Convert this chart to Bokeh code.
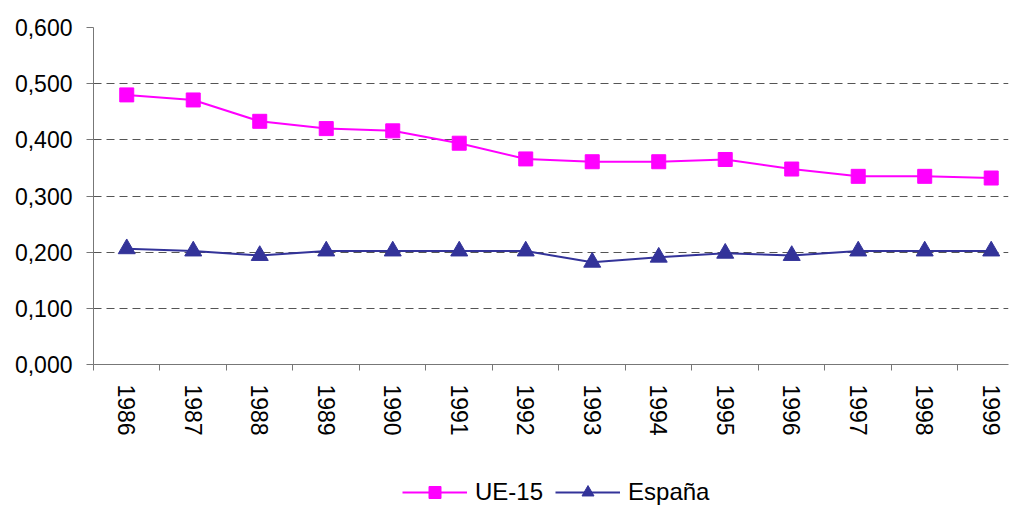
from bokeh.plotting import figure
from bokeh.layouts import column
from bokeh.models import (Range1d, FixedTicker, CustomJSTickFormatter, Legend, LegendItem)
from bokeh.embed import file_html
from bokeh.resources import INLINE
import math

years = ["1986", "1987", "1988", "1989", "1990", "1991", "1992",
         "1993", "1994", "1995", "1996", "1997", "1998", "1999"]
ue15 = [0.480, 0.471, 0.433, 0.420, 0.416, 0.394, 0.366,
        0.361, 0.361, 0.365, 0.348, 0.335, 0.335, 0.332]
espana = [0.206, 0.202, 0.194, 0.202, 0.202, 0.202, 0.202,
          0.182, 0.191, 0.198, 0.194, 0.202, 0.202, 0.202]
y_ticks = [0.0, 0.1, 0.2, 0.3, 0.4, 0.5, 0.6]
series_names = ["UE-15", "España"]

xs = list(range(len(years)))
FONT = "Liberation Sans"
MAGENTA = "#FF00FF"
NAVY = "#333399"

p = figure(width=1011, height=470, output_backend="svg", toolbar_location=None,
           x_range=Range1d(-0.5, 13.26), y_range=Range1d(0, 0.6),
           min_border_left=93, min_border_top=27, min_border_right=3,
           min_border_bottom=106)
p.outline_line_color = None
p.background_fill_color = "white"

# axes
p.yaxis.ticker = FixedTicker(ticks=y_ticks)
p.yaxis.formatter = CustomJSTickFormatter(code="return tick.toFixed(3).replace('.', ',');")
p.yaxis.major_tick_out = 7
p.yaxis.major_tick_in = 0
p.yaxis.minor_tick_out = 0
p.yaxis.minor_tick_in = 0
p.yaxis.major_label_standoff = 14
p.yaxis.axis_line_color = "#777777"
p.yaxis.major_tick_line_color = "#777777"

p.xaxis.ticker = FixedTicker(ticks=xs, minor_ticks=[i - 0.5 for i in range(len(years) + 1)])
p.xaxis.formatter = CustomJSTickFormatter(args=dict(years=years),
                                          code="return years[Math.round(tick)];")
p.xaxis.major_tick_out = 0
p.xaxis.major_tick_in = 0
p.xaxis.minor_tick_out = 6
p.xaxis.minor_tick_in = 0
p.xaxis.major_label_orientation = -math.pi / 2
p.xaxis.major_label_standoff = 14
p.xaxis.axis_line_color = "#777777"
p.xaxis.minor_tick_line_color = "#777777"

for ax in (p.xaxis[0], p.yaxis[0]):
    ax.major_label_text_font = FONT
    ax.major_label_text_font_size = "23px"
    ax.major_label_text_color = "black"

p.xgrid.grid_line_color = None
p.ygrid.ticker = FixedTicker(ticks=y_ticks[1:])
p.ygrid.grid_line_color = "#555555"
p.ygrid.grid_line_dash = "8 5"
p.ygrid.grid_line_width = 1

p.line(xs, ue15, line_color=MAGENTA, line_width=2)
p.scatter(xs, ue15, marker="square", size=14, fill_color=MAGENTA, line_color=MAGENTA)
p.line(xs, espana, line_color=NAVY, line_width=2)
p.scatter(xs, espana, marker="triangle", size=17, fill_color=NAVY, line_color=NAVY)

# legend strip below the chart (its frame is aligned with the chart's frame);
# the series are drawn out of view here, only their legend glyphs show
lg = figure(width=1011, height=37, output_backend="svg", toolbar_location=None,
            x_range=Range1d(100, 101), y_range=Range1d(0, 1),
            x_axis_location=None, y_axis_location=None,
            min_border_left=0, min_border_right=0, min_border_top=0, min_border_bottom=0)
lg.outline_line_color = None
lg.grid.visible = False
ll1 = lg.line(xs, ue15, line_color=MAGENTA, line_width=2)
ls1 = lg.scatter(xs, ue15, marker="square", fill_color=MAGENTA, line_color=MAGENTA)
ll2 = lg.line(xs, espana, line_color=NAVY, line_width=2)
ls2 = lg.scatter(xs, espana, marker="triangle", fill_color=NAVY, line_color=NAVY)

legend = Legend(items=[LegendItem(label=series_names[0], renderers=[ll1, ls1]),
                       LegendItem(label=series_names[1], renderers=[ll2, ls2])],
                orientation="horizontal", location=(309, 0),
                glyph_width=65, glyph_height=30, label_standoff=8, spacing=12,
                label_text_font=FONT, label_text_font_size="24px",
                label_text_color="black",
                border_line_color=None, background_fill_alpha=0,
                padding=0, margin=0)
lg.add_layout(legend, "center")

layout = column(p, lg, spacing=0)
open("out.html", "w").write(file_html(layout, INLINE))
